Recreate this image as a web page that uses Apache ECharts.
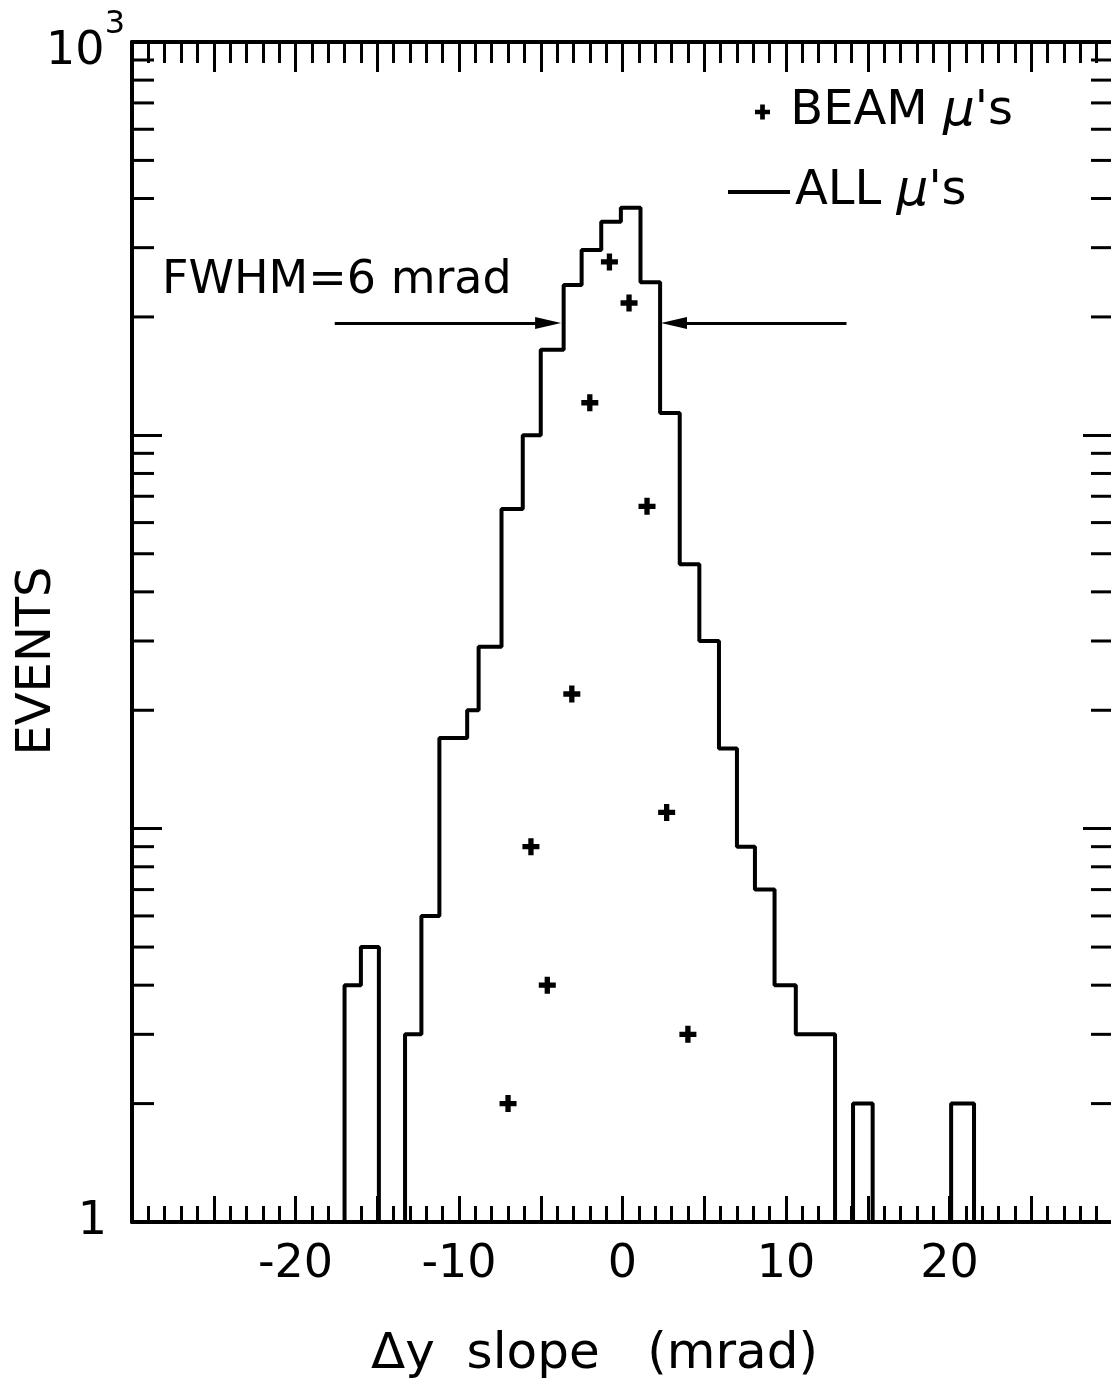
<!DOCTYPE html>
<html><head><meta charset="utf-8">
<script src="https://cdn.jsdelivr.net/npm/echarts@6/dist/echarts.min.js"></script>
<style>html,body{margin:0;padding:0;background:#fff}#c{width:1111px;height:1383px}</style>
</head><body><div id="c"></div>
<script>
// ---- data ----
// histogram bin edges (mrad) and counts of ALL muons (0 = empty bin)
const binEdges = [-17.0, -16.0, -14.9, -13.3, -12.3, -11.2, -9.5, -8.8, -7.4, -6.1, -5.0, -3.6, -2.5, -1.3, -0.1, 1.1, 2.3, 3.5, 4.7, 5.9, 7.0, 8.1, 9.3, 10.6, 13.0, 14.1, 15.3, 20.1, 21.5];
const allCounts = [4, 5, 0, 3, 6, 17, 20, 29, 65, 100, 165, 241, 296, 349, 379, 245, 114, 47, 30, 16, 9, 7, 4, 3, 0, 2, 0, 2];
// beam muons (+ markers)
const beamSlopes = [-7.0, -5.6, -4.6, -3.1, -2.0, -0.8, 0.4, 1.5, 2.7, 4.0];
const beamCounts = [2, 9, 4, 22, 121, 276, 217, 66, 11, 3];
// axes
const xTickLabels = ['-20', '-10', '0', '10', '20'];
const yLabelValues = [1, 1000];
const yMinorTicks = [2,3,4,5,6,7,8,9,20,30,40,50,60,70,80,90,200,300,400,500,600,700,800,900];
// FWHM annotation (arrow tails and heads, mrad, at a count level)
const fwhmText = 'FWHM=6 mrad';
const fwhmLevel = 193;
const fwhmLeftArrow = [-17.6, -4.55];
const fwhmRightArrow = [13.7, 3.15];

const FONT = 'DejaVu Sans';
const X_MIN = -30, X_MAX = 30;

// build step outline points for the histogram (empty bins sit on the axis floor = 1)
const floorVal = 1;
const histPts = [[binEdges[0], floorVal]];
for (let i = 0; i < allCounts.length; i++) {
  histPts.push([binEdges[i], allCounts[i] > 0 ? allCounts[i] : floorVal]);
}
histPts.push([binEdges[binEdges.length - 1], floorVal]);

const beamPts = beamSlopes.map((x, i) => [x, beamCounts[i]]);

const plusPath = 'path://M5.5,0H10.5V5.5H16V10.5H10.5V16H5.5V10.5H0V5.5H5.5Z';
const black = '#000';

const muRich = {
  a: {fontSize: 48, fontFamily: FONT, color: black},
  mu: {fontSize: 50, fontFamily: FONT, fontStyle: 'italic', color: black}
};

const chart = echarts.init(document.getElementById('c'), null, {renderer: 'canvas'});
chart.setOption({
  animation: false,
  backgroundColor: '#fff',
  grid: {left: 132, top: 42, width: 981, height: 1180, containLabel: false, outerBoundsMode: 'none'},
  legend: [
    {
      data: [{name: "BEAM μ's", icon: plusPath, itemStyle: {color: black, opacity: 1}}],
      left: 755, top: 87, padding: 0,
      itemWidth: 15, itemHeight: 15,
      selectedMode: false,
      formatter: () => "{a| BEAM }{mu|μ}{a|'s}",
      textStyle: {rich: muRich, lineHeight: 50}
    },
    {
      data: [{name: "ALL μ's", icon: 'rect', itemStyle: {color: black}}],
      left: 728, top: 167, padding: 0,
      itemWidth: 62, itemHeight: 4,
      selectedMode: false,
      formatter: () => "{a|ALL }{mu|μ}{a|'s}",
      textStyle: {rich: muRich, lineHeight: 50}
    }
  ],
  xAxis: [
    {
      type: 'value', position: 'bottom', min: X_MIN, max: X_MAX, interval: 5,
      axisLine: {onZero: false, lineStyle: {color: black, width: 4}},
      axisTick: {inside: true, length: 26, lineStyle: {color: black, width: 3}},
      minorTick: {show: true, splitNumber: 5, length: 16, lineStyle: {color: black, width: 3}},
      splitLine: {show: false},
      axisLabel: {
        margin: 20, fontSize: 46, fontFamily: FONT, color: black,
        formatter: v => xTickLabels.includes(String(Math.round(v))) ? String(Math.round(v)) : ''
      },
      name: 'Δy  slope   (mrad)', nameLocation: 'middle', nameGap: 108,
      nameTextStyle: {fontSize: 50, fontFamily: FONT, color: black, padding: [0, 56, 0, 0]}
    },
    {
      type: 'value', position: 'top', min: X_MIN, max: X_MAX, interval: 5,
      axisLine: {onZero: false, lineStyle: {color: black, width: 4}},
      axisTick: {inside: true, length: 30, lineStyle: {color: black, width: 3}},
      minorTick: {show: true, splitNumber: 5, length: 21, lineStyle: {color: black, width: 3}},
      splitLine: {show: false},
      axisLabel: {show: false}
    }
  ],
  yAxis: [
    {
      type: 'log', logBase: 10, min: 1, max: 1000, position: 'left',
      axisLine: {onZero: false, lineStyle: {color: black, width: 4}},
      axisTick: {inside: true, length: 30, lineStyle: {color: black, width: 3}},
      splitLine: {show: false},
      axisLabel: {
        margin: 7, color: black, fontFamily: FONT,
        formatter: v => {
          const r = Math.round(v);
          if (!yLabelValues.includes(r)) return '';
          if (r === 1) return '{one|1}';
          const e = Math.round(Math.log10(r));
          return '{b|10}{s|' + e + '}';
        },
        rich: {
          one: {fontSize: 46, fontFamily: FONT, color: black, padding: [0, 18, 0, 0]},
          b: {fontSize: 46, fontFamily: FONT, color: black, lineHeight: 66, verticalAlign: 'bottom'},
          s: {fontSize: 32, fontFamily: FONT, color: black, lineHeight: 32, verticalAlign: 'top'}
        }
      },
      name: 'EVENTS', nameLocation: 'middle', nameRotate: 90, nameGap: 70,
      nameMoveOverlap: false,
      nameTextStyle: {fontSize: 48, fontFamily: FONT, color: black, padding: [0, 58, 0, 0]}
    },
    {
      type: 'log', logBase: 10, min: 1, max: 1000, position: 'right',
      axisLine: {onZero: false, lineStyle: {color: black, width: 4}},
      axisTick: {inside: true, length: 30, lineStyle: {color: black, width: 3}},
      splitLine: {show: false},
      axisLabel: {show: false}
    }
  ],
  graphic: [
    {type: 'text', x: 162, y: 281, style: {text: fwhmText, font: '46px "DejaVu Sans"', fill: black, textAlign: 'left', textVerticalAlign: 'middle'}}
  ],
  series: [
    {
      name: "ALL μ's", type: 'line', step: 'end', data: histPts,
      showSymbol: false, symbol: 'none',
      lineStyle: {color: black, width: 4}, itemStyle: {color: black},
      emphasis: {disabled: true}, silent: true,
      markLine: {
        silent: true, symbol: ['none', 'triangle'], symbolSize: [12, 26],
        lineStyle: {color: black, width: 3, type: 'solid'}, itemStyle: {color: black},
        label: {show: false}, emphasis: {disabled: true},
        data: [
          [{coord: [fwhmLeftArrow[0], fwhmLevel]}, {coord: [fwhmLeftArrow[1], fwhmLevel]}],
          [{coord: [fwhmRightArrow[0], fwhmLevel]}, {coord: [fwhmRightArrow[1], fwhmLevel]}]
        ]
      }
    },
    {
      name: "BEAM μ's", type: 'scatter', data: beamPts,
      symbol: plusPath, symbolSize: 17,
      itemStyle: {color: black, opacity: 1}, emphasis: {disabled: true}, silent: true
    },
    {
      name: 'yMinorTicks', type: 'custom', silent: true, z: 5,
      data: yMinorTicks.map(v => [0, v]),
      renderItem: (params, api) => {
        const v = api.value(1);
        const l = api.coord([X_MIN, v]);
        const r = api.coord([X_MAX, v]);
        return {
          type: 'group',
          children: [
            {type: 'line', shape: {x1: l[0], y1: l[1], x2: l[0] + 22, y2: l[1]}, style: {stroke: black, lineWidth: 3}},
            {type: 'line', shape: {x1: r[0] - 22, y1: r[1], x2: r[0], y2: r[1]}, style: {stroke: black, lineWidth: 3}}
          ]
        };
      }
    }
  ]
});
</script>
</body></html>
